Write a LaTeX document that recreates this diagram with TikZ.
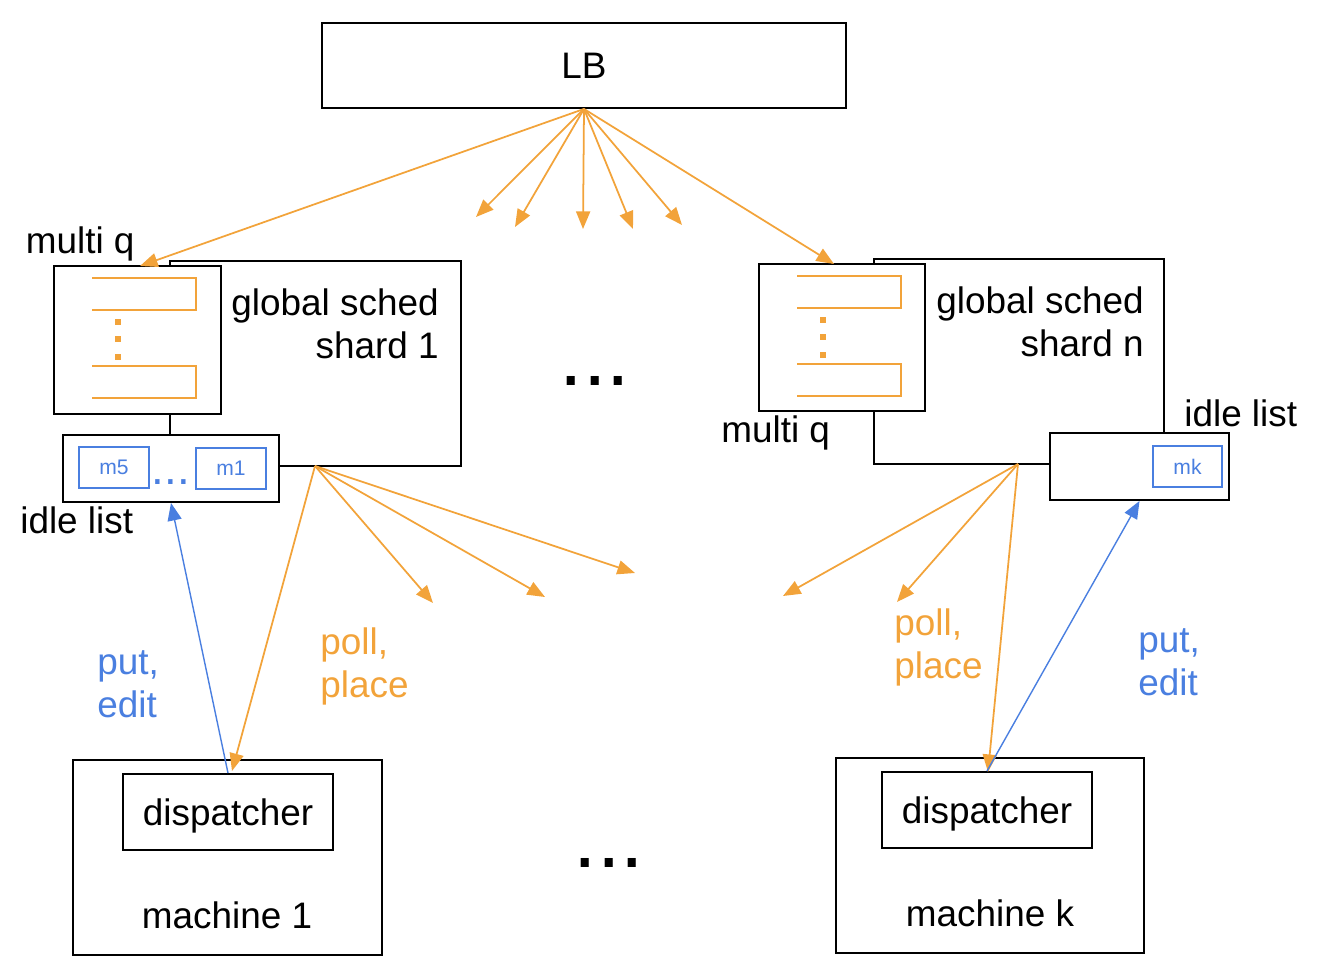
\documentclass[tikz,border=0pt]{standalone}
\usepackage{fontspec}
\setmainfont{Liberation Sans}
\usetikzlibrary{arrows.meta,calc}
\newdimen\px \px=0.02cm
\definecolor{gorange}{HTML}{F2A33A}
\definecolor{gblue}{HTML}{4A7FE0}
\begin{document}
\begin{tikzpicture}[x=0.02cm,y=-0.02cm,
 box/.style={draw=black, line width=1.1pt, fill=white, inner sep=0pt, font=\fontsize{21}{25}\selectfont},
 mbox/.style={draw=gblue, line width=0.9pt, inner sep=0pt, text=gblue, font=\fontsize{12}{14}\selectfont, minimum width=70\px, minimum height=41\px},
 lbl/.style={inner sep=0pt, font=\fontsize{21}{24.5}\selectfont},
 oarrow/.style={draw=gorange, line width=1pt, -{Triangle[length=10pt,width=8pt]}},
 barrow/.style={draw=gblue, line width=0.8pt, -{Triangle[length=10pt,width=8pt]}},
 queue/.style={draw=gorange, line width=0.9pt},
 qdot/.style={fill=gorange},
 bigdots/.style={inner sep=0pt, font=\fontsize{48}{50}\selectfont}
]
\useasboundingbox (0,0) rectangle (1320,976);

% LB
\node[box, minimum width=524\px, minimum height=85\px] (lb) at (584,65.5) {LB};

% left shard
\node[box, minimum width=291\px, minimum height=205\px] (sh1) at (315.5,363.5) {};
\node[lbl, anchor=east, align=right] (sh1t) at (439,323.5) {global sched\\shard 1};
\node[box, minimum width=167\px, minimum height=148\px] (mq1) at (137.5,340) {};
\draw[queue] (92,278) -- (196,278) -- (196,310) -- (92,310);
\draw[queue] (92,366) -- (196,366) -- (196,398) -- (92,398);
\fill[qdot] (115,319) rectangle (121,325);
\fill[qdot] (115,336.5) rectangle (121,342.5);
\fill[qdot] (115,354) rectangle (121,360);
\node[box, minimum width=216\px, minimum height=67\px] (il1) at (171,468.5) {};
\node[mbox] (m5) at (114,467.5) {m5};
\node[mbox] (m1) at (231,468.5) {m1};
\node[inner sep=0pt, text=gblue, font=\fontsize{26}{28}\selectfont] (dl1) at (171,482) {...};
\node[lbl, anchor=west] (mq1l) at (25.5,244) {multi q};
\node[lbl, anchor=west] (il1l) at (20,520) {idle list};

% right shard
\node[box, minimum width=290\px, minimum height=205\px] (shn) at (1019,361.5) {};
\node[lbl, anchor=east, align=right] (shnt) at (1144,321.5) {global sched\\shard n};
\node[box, minimum width=166\px, minimum height=147\px] (mqn) at (842,337.5) {};
\draw[queue] (797,276) -- (901,276) -- (901,308) -- (797,308);
\draw[queue] (797,364) -- (901,364) -- (901,396) -- (797,396);
\fill[qdot] (820,317) rectangle (826,323);
\fill[qdot] (820,334.5) rectangle (826,340.5);
\fill[qdot] (820,352) rectangle (826,358);
\node[box, minimum width=179\px, minimum height=67\px] (iln) at (1139.5,466.5) {};
\node[mbox, minimum width=69\px] (mk) at (1187.5,466.5) {mk};
\node[lbl, anchor=west] (mqnl) at (721,433) {multi q};
\node[lbl, anchor=west] (ilnl) at (1184,413.5) {idle list};

% machines
\node[box, minimum width=309\px, minimum height=195\px] (mc1) at (227.5,857.5) {};
\node[box, text depth=0pt, minimum width=210\px, minimum height=76\px] (dp1) at (228,812) {dispatcher};
\node[lbl] (mc1t) at (227,915) {machine 1};
\node[box, minimum width=308\px, minimum height=195\px] (mck) at (990,855.5) {};
\node[box, text depth=0pt, minimum width=210\px, minimum height=76\px] (dpk) at (987,810) {dispatcher};
\node[lbl] (mckt) at (990,913) {machine k};

% ellipses
\node[bigdots] (dotsA) at (595,381) {...};
\node[bigdots] (dotsB) at (609,863) {...};

% coordinates
\coordinate (lbo) at (lb.south);
\coordinate (f1) at (315,466);
\coordinate (fn) at (1018,464);
\coordinate (t1) at (476,217);
\coordinate (t2) at (515,227);
\coordinate (t3) at (583,229);
\coordinate (t4) at (633,229);
\coordinate (t5) at (682,225);
\coordinate (q1) at (140,266);
\coordinate (qn) at (834,264);
\coordinate (u1) at (433,603);
\coordinate (u2) at (545,597);
\coordinate (u3) at (635,573);
\coordinate (v1) at (783,596);
\coordinate (v2) at (897,602);
\coordinate (p1) at (232,771);
\coordinate (pk) at (988,772);

% LB fan
\draw[oarrow] (lbo) -- (q1);
\draw[oarrow] (lbo) -- (qn);
\foreach \t in {t1,t2,t3,t4,t5} \draw[oarrow] (lbo) -- (\t);

% shard fans
\draw[oarrow] (f1) -- (u1);
\draw[oarrow] (f1) -- (u2);
\draw[oarrow] (f1) -- (u3);
\draw[oarrow] (f1) -- (p1);
\draw[oarrow] (fn) -- (v1);
\draw[oarrow] (fn) -- (v2);
\draw[oarrow] (fn) -- (pk);

% put/edit
\draw[barrow] (dp1.north) -- (il1.south);
\draw[barrow] (dpk.north) -- (iln.south);

% labels
\node[lbl, anchor=west, align=left, text=gblue] (pe1) at (97,684.5) {put,\\edit};
\node[lbl, anchor=west, align=left, text=gorange] (pp1) at (320,666) {poll,\\place};
\node[lbl, anchor=west, align=left, text=gorange] (ppn) at (894,647.5) {poll,\\place};
\node[lbl, anchor=west, align=left, text=gblue] (pen) at (1138,662) {put,\\edit};
\end{tikzpicture}
\end{document}
